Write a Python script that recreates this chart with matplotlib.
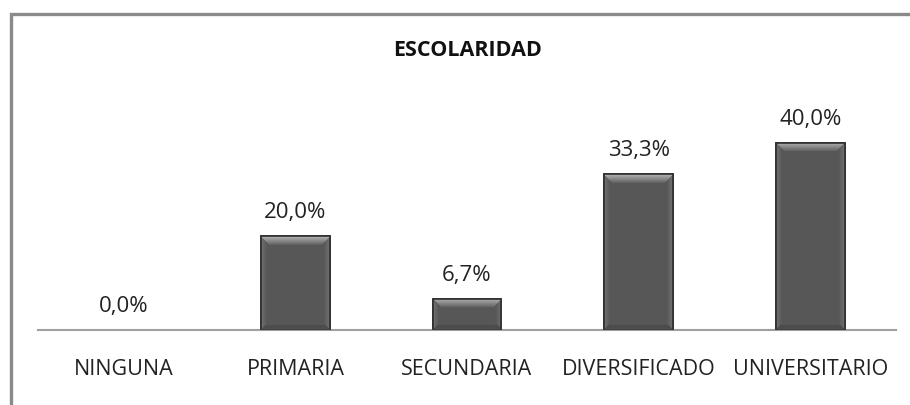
import matplotlib
matplotlib.use("Agg")
import numpy as np
import matplotlib.pyplot as plt
from matplotlib.patches import Rectangle

categorias = ["NINGUNA", "PRIMARIA", "SECUNDARIA", "DIVERSIFICADO", "UNIVERSITARIO"]
valores = [0.0, 20.0, 6.7, 33.3, 40.0]
etiquetas = ["0,0%", "20,0%", "6,7%", "33,3%", "40,0%"]

plt.rcParams['font.family'] = ['Open Sans', 'DejaVu Sans']

fig = plt.figure(figsize=(9.1, 4.05), dpi=100)
fig.patch.set_facecolor('white')

# marco del grafico (solo visible arriba y a la izquierda)
fig.patches.append(Rectangle((11 / 910, -0.1), 1.1, (405 - 14) / 405 + 0.1,
                             transform=fig.transFigure, fill=False,
                             edgecolor='#8a8a8a', linewidth=2.4))

ax = fig.add_axes([38 / 910, 75 / 405, 858 / 910, 270 / 405])
x = range(len(categorias))
ax.set_xlim(-0.5, len(categorias) - 0.5)
ax.set_ylim(0, 57.75)
barras = ax.bar(x, valores, width=0.4, color='#515151', edgecolor='#2e2e2e', linewidth=1.2)

# efecto biselado sobre cada barra
for rect in barras:
    if rect.get_height() <= 0:
        continue
    x0, y0 = rect.get_x(), rect.get_y()
    w, h = rect.get_width(), rect.get_height()
    (px0, py0), (px1, py1) = ax.transData.transform([(x0, y0), (x0 + w, y0 + h)])
    W, H = max(int(round(px1 - px0)), 2), max(int(round(py1 - py0)), 2)
    img = np.full((H, W), 0.34)
    # laterales algo mas claros
    for k in range(min(6, W // 2)):
        c = 0.44 - 0.017 * k
        img[:, k] = np.maximum(img[:, k], c)
        img[:, W - 1 - k] = np.maximum(img[:, W - 1 - k], c)
    # franja inferior
    for k in range(min(5, H)):
        img[H - 1 - k, k:W - k] = 0.30
    # bisel superior claro
    for k in range(min(9, H)):
        t = 1 - k / 9
        img[k, k:W - k] = 0.36 + 0.34 * t
    im = ax.imshow(img, cmap='gray', vmin=0, vmax=1, extent=[x0, x0 + w, y0, y0 + h],
                   aspect='auto', interpolation='bilinear', origin='upper', zorder=2.5)
    im.set_clip_path(rect)
    ax.add_patch(Rectangle((x0, y0), w, h, fill=False, edgecolor='#2e2e2e',
                           linewidth=1.2, zorder=2.6))

for i, v in enumerate(valores):
    ax.annotate(etiquetas[i], (i, v), xytext=(0, 13), textcoords='offset points',
                ha='center', va='baseline', fontsize=16, color='#222222')

ax.set_aspect('auto')
ax.set_xlim(-0.5, len(categorias) - 0.5)
ax.set_ylim(0, 57.75)
ax.set_xticks(list(x))
ax.set_xticklabels(categorias, fontsize=15.5, color='#222222')
ax.tick_params(axis='x', length=0, pad=21)
ax.set_yticks([])
for s in ['top', 'right', 'left']:
    ax.spines[s].set_visible(False)
ax.spines['bottom'].set_color('#a0a0a0')
ax.spines['bottom'].set_linewidth(1.5)

fig.text(468 / 910, 1 - 50 / 405, "ESCOLARIDAD", ha='center', va='center',
         fontsize=15.5, fontweight='bold', color='#111111')

fig.savefig("out.png", dpi=100, facecolor='white')
